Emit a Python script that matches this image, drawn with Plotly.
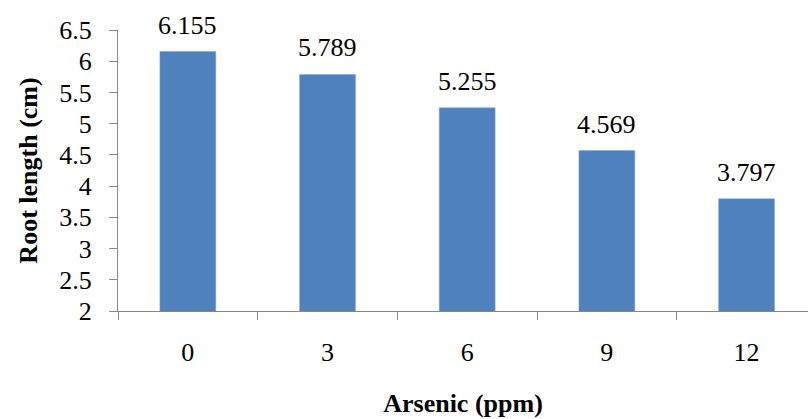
import plotly.graph_objects as go

categories = ["0", "3", "6", "9", "12"]
values = [6.155, 5.789, 5.255, 4.569, 3.797]
value_labels = ["6.155", "5.789", "5.255", "4.569", "3.797"]
y_ticks = [2, 2.5, 3, 3.5, 4, 4.5, 5, 5.5, 6, 6.5]
y_tick_text = ["2", "2.5", "3", "3.5", "4", "4.5", "5", "5.5", "6", "6.5"]

FONT = "Liberation Serif"
AXIS = "#868686"

fig = go.Figure(go.Bar(
    x=categories, y=values,
    marker=dict(color="#4F81BD", line=dict(color="#7FA3D0", width=0.5)),
    hoverinfo="x+y",
))

for i, (v, t) in enumerate(zip(values, value_labels)):
    fig.add_annotation(x=i, y=v, xref="x", yref="y", text=t, showarrow=False,
                       yanchor="bottom", yshift=10,
                       font=dict(family=FONT, size=26, color="black"))

fig.update_layout(
    width=808, height=419,
    margin=dict(l=118, r=0, t=30, b=108),
    paper_bgcolor="white", plot_bgcolor="white",
    bargap=0.6, showlegend=False,
    font=dict(family=FONT, size=26, color="black"),
)
fig.update_xaxes(
    type="category", range=[-0.5, 4.44],
    showline=True, linecolor=AXIS, linewidth=1,
    ticks="outside", tickson="boundaries", ticklen=8, tickcolor=AXIS,
    ticklabelstandoff=18, showgrid=False, zeroline=False,
    tickfont=dict(family=FONT, size=26),
    title=dict(text="<b>Arsenic (ppm)</b>", font=dict(family=FONT, size=26), standoff=27),
)
fig.update_yaxes(
    range=[2, 6.5], tickvals=y_ticks, ticktext=y_tick_text,
    showline=True, linecolor=AXIS, linewidth=1,
    ticks="outside", ticklen=8, tickcolor=AXIS,
    ticklabelstandoff=12, showgrid=False, zeroline=False,
    tickfont=dict(family=FONT, size=26),
    title=dict(text="<b>Root length (cm)</b>", font=dict(family=FONT, size=26), standoff=14),
)

fig.write_html("out.html")
